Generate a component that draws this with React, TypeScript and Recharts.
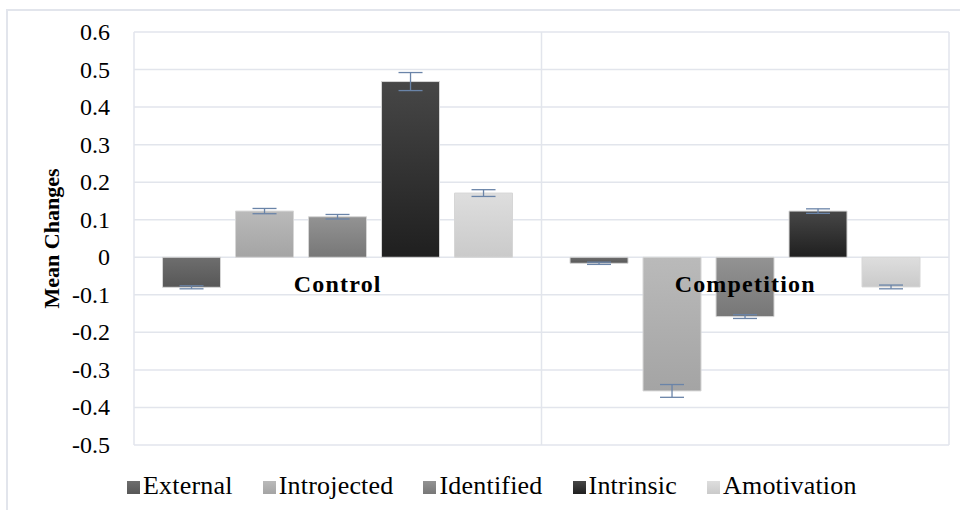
import React from "react";
import {
  BarChart,
  Bar,
  XAxis,
  YAxis,
  CartesianGrid,
  ErrorBar,
  ReferenceDot,
} from "recharts";

const groups = ["Control", "Competition"];
const external = [-0.08, -0.016];
const introjected = [0.123, -0.356];
const identified = [0.108, -0.158];
const intrinsic = [0.468, 0.123];
const amotivation = [0.171, -0.079];

const externalErr = [0.004, 0.003];
const introjectedErr = [0.007, 0.017];
const identifiedErr = [0.006, 0.005];
const intrinsicErr = [0.024, 0.006];
const amotivationErr = [0.009, 0.005];

const yTicks = [0.6, 0.5, 0.4, 0.3, 0.2, 0.1, 0, -0.1, -0.2, -0.3, -0.4, -0.5];

const SERIES = [
  { key: "External", values: external, errs: externalErr, top: "#6e6e6e", bottom: "#575757" },
  { key: "Introjected", values: introjected, errs: introjectedErr, top: "#bababa", bottom: "#a4a4a4" },
  { key: "Identified", values: identified, errs: identifiedErr, top: "#939393", bottom: "#777777" },
  { key: "Intrinsic", values: intrinsic, errs: intrinsicErr, top: "#474747", bottom: "#1f1f1f" },
  { key: "Amotivation", values: amotivation, errs: amotivationErr, top: "#dedede", bottom: "#cacaca" },
];

const data = groups.map((g, i) => {
  const row: Record<string, any> = { name: g };
  SERIES.forEach((s) => {
    row[s.key] = s.values[i];
    row[s.key + "Err"] = s.errs[i];
  });
  return row;
});

const FONT = '"Liberation Serif", "Times New Roman", serif';
const GRID = "#e2e5ec";

// y tick labels, right aligned next to the plot
const YTick = ({ x, y, payload }: any) => (
  <text
    x={x}
    y={y}
    textAnchor="end"
    dominantBaseline="central"
    fontSize={24}
    fontFamily={FONT}
    fill="#000"
  >
    {payload.value}
  </text>
);

export default function App() {
  return (
    <div
      style={{
        position: "absolute",
        left: 0,
        top: 0,
        width: 960,
        height: 510,
        background: "#fff",
        overflow: "hidden",
        fontFamily: FONT,
      }}
    >
      {/* outer chart-area border */}
      <div
        style={{
          position: "absolute",
          left: 6,
          top: 9,
          width: 980,
          height: 530,
          borderTop: `2px solid ${GRID}`,
          borderLeft: `2px solid ${GRID}`,
        }}
      />
      <div style={{ position: "absolute", left: 0, top: 0 }}>
        <BarChart
          width={960}
          height={510}
          data={data}
          margin={{ top: 32, right: 11, bottom: 65, left: 0 }}
          barCategoryGap="7%"
          barGap={15}
        >
          <defs>
            {SERIES.map((s) => (
              <linearGradient key={s.key} id={"g" + s.key} x1="0" y1="0" x2="0" y2="1">
                <stop offset="0%" stopColor={s.top} />
                <stop offset="100%" stopColor={s.bottom} />
              </linearGradient>
            ))}
          </defs>
          <CartesianGrid
            stroke={GRID}
            strokeWidth={1.5}
            verticalCoordinatesGenerator={({ offset }: any) => [
              offset.left,
              offset.left + offset.width / 2,
              offset.left + offset.width,
            ]}
          />
          <XAxis dataKey="name" hide />
          <YAxis
            width={134}
            domain={[-0.5, 0.6]}
            ticks={yTicks}
            interval={0}
            axisLine={false}
            tickLine={false}
            tickMargin={18}
            tick={<YTick />}
            label={({ viewBox }: any) => {
              const cx = 51;
              const cy = viewBox.y + viewBox.height / 2;
              return (
                <text
                  x={cx}
                  y={cy}
                  transform={`rotate(-90 ${cx} ${cy})`}
                  textAnchor="middle"
                  dominantBaseline="central"
                  fontSize={22}
                  fontWeight="bold"
                  fontFamily={FONT}
                  fill="#000"
                >
                  Mean Changes
                </text>
              );
            }}
          />
          {SERIES.map((s) => (
            <Bar
              key={s.key}
              dataKey={s.key}
              fill={`url(#g${s.key})`}
              stroke="#d6d6d6"
              strokeWidth={1}
              isAnimationActive={false}
            >
              <ErrorBar
                dataKey={s.key + "Err"}
                width={12}
                stroke="#6a84a8"
                strokeWidth={1.3}
              />
            </Bar>
          ))}
          {groups.map((g) => (
            <ReferenceDot
              key={g}
              x={g}
              y={0}
              r={0}
              fill="none"
              stroke="none"
              label={{
                value: g,
                position: "bottom",
                offset: 18,
                fontSize: 24,
                fontWeight: "bold",
                fill: "#000",
                fontFamily: FONT,
                letterSpacing: 1.2,
              }}
            />
          ))}
        </BarChart>
      </div>
      {/* legend */}
      <div
        style={{
          position: "absolute",
          left: 127,
          top: 471,
          display: "flex",
          alignItems: "center",
          gap: 30,
          fontSize: 26,
          lineHeight: "30px",
          color: "#000",
          whiteSpace: "nowrap",
        }}
      >
        {SERIES.map((s) => (
          <div key={s.key} style={{ display: "flex", alignItems: "center" }}>
            <span
              style={{
                display: "inline-block",
                width: 13,
                height: 13,
                marginRight: 3,
                marginTop: 2,
                background: `linear-gradient(${s.top}, ${s.bottom})`,
              }}
            />
            <span style={{ letterSpacing: 0.2 }}>{s.key}</span>
          </div>
        ))}
      </div>
    </div>
  );
}
